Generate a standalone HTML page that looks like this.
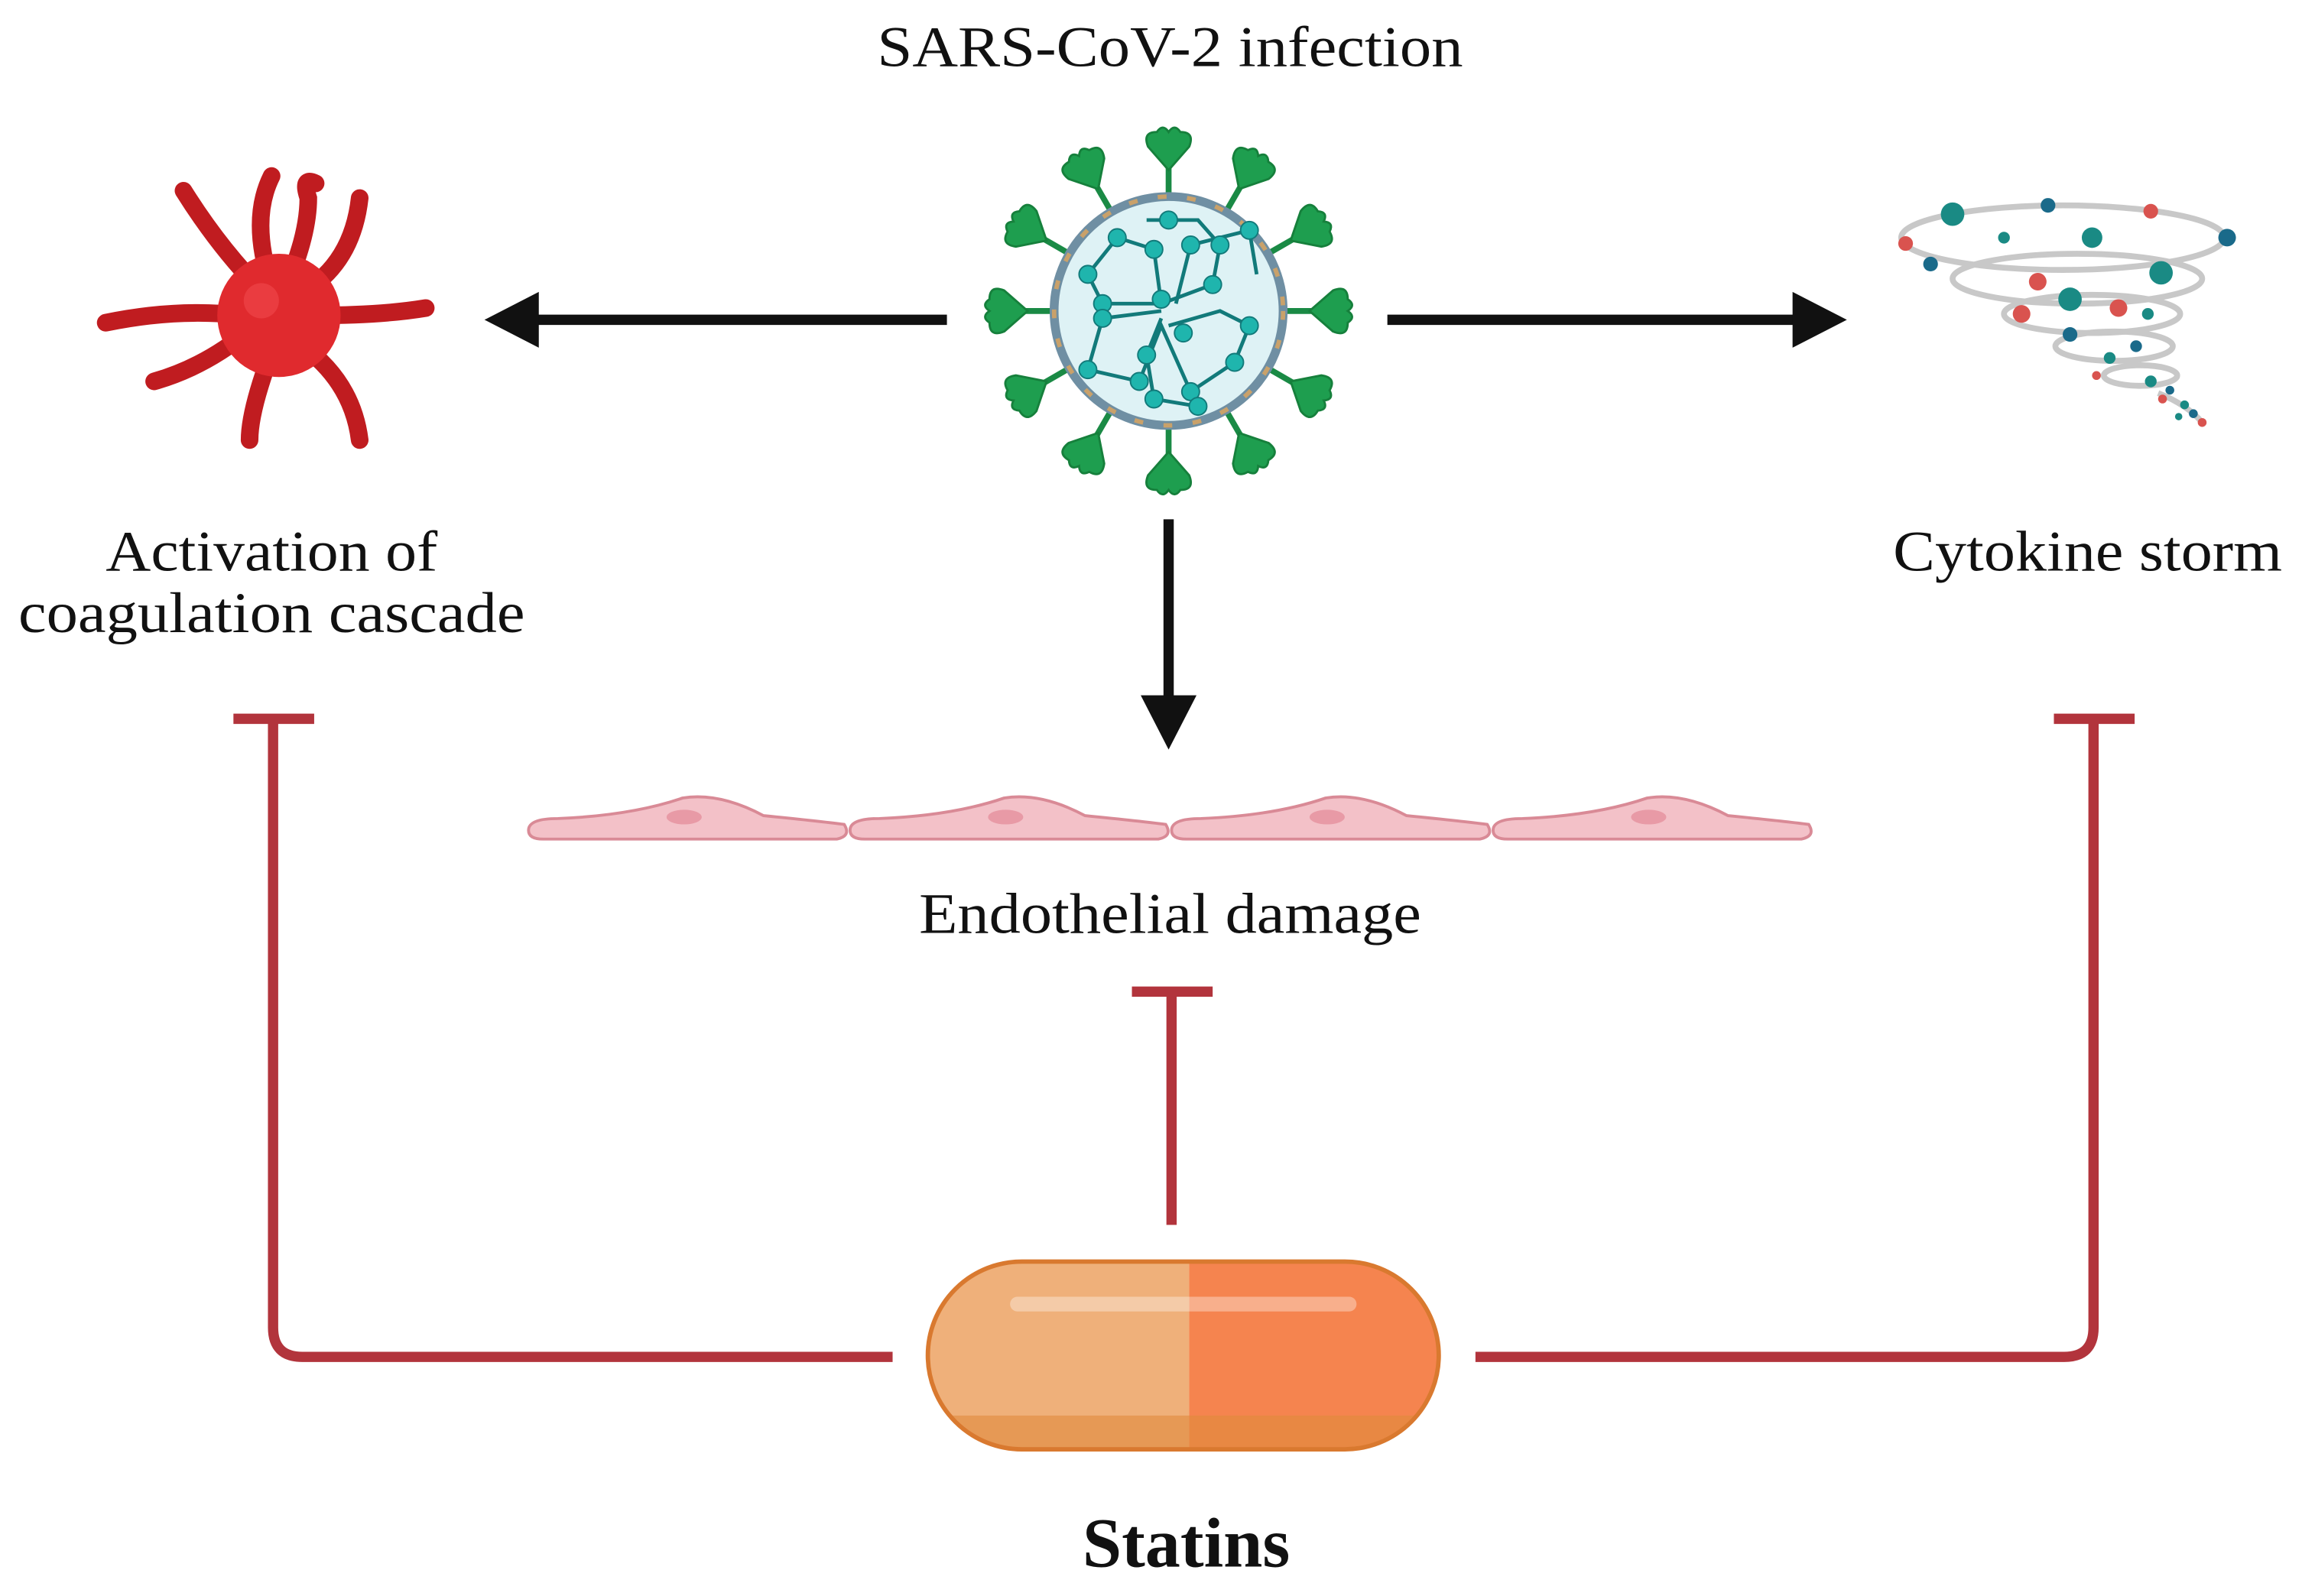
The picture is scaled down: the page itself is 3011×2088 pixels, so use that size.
<!DOCTYPE html>
<html><head><meta charset="utf-8"><style>
html,body{margin:0;padding:0;background:#fff}
svg{display:block}
</style></head><body>
<svg width="3011" height="2088" viewBox="0 0 1568 1088" preserveAspectRatio="none" xmlns="http://www.w3.org/2000/svg">
<defs>
<g id="spike">
<line x1="0" y1="-78" x2="0" y2="-100" stroke="#1a8a45" stroke-width="4"/>
<path d="M0,-96 L-14,-112 Q-18,-122 -8,-122 Q-4,-128 0,-122 Q4,-128 8,-122 Q18,-122 14,-112 Z" fill="#1e9e4f" stroke="#16803c" stroke-width="1.5"/>
</g>
</defs>
<g font-family="Liberation Serif, serif" fill="#111" text-anchor="middle">
<text x="797" y="45" font-size="39" textLength="399" lengthAdjust="spacingAndGlyphs">SARS-CoV-2 infection</text>
<text x="185" y="389" font-size="39" textLength="226" lengthAdjust="spacingAndGlyphs">Activation of</text>
<text x="185" y="431" font-size="39" textLength="345" lengthAdjust="spacingAndGlyphs">coagulation cascade</text>
<text x="1422" y="389" font-size="39" textLength="265" lengthAdjust="spacingAndGlyphs">Cytokine storm</text>
<text x="797" y="636" font-size="39" textLength="342" lengthAdjust="spacingAndGlyphs">Endothelial damage</text>
<text x="808" y="1068" font-size="48" font-weight="bold">Statins</text>
</g>
<g fill="#111" stroke="#111">
<line x1="645" y1="218" x2="360" y2="218" stroke-width="7"/>
<polygon points="330,218 367,199 367,237" stroke="none"/>
<line x1="945" y1="218" x2="1225" y2="218" stroke-width="7"/>
<polygon points="1258,218 1221,199 1221,237" stroke="none"/>
<line x1="796" y1="354" x2="796" y2="480" stroke-width="7"/>
<polygon points="796,511 777,474 815,474" stroke="none"/>
</g>
<g stroke="#b2343c" stroke-width="7" fill="none">
<path d="M186,490 L186,905 Q186,925 206,925 L608,925"/>
<line x1="159" y1="490" x2="214" y2="490"/>
<path d="M1426,490 L1426,905 Q1426,925 1406,925 L1005,925"/>
<line x1="1399" y1="490" x2="1454" y2="490"/>
<line x1="798" y1="835" x2="798" y2="676"/>
<line x1="771" y1="676" x2="826" y2="676"/>
</g>
<clipPath id="pc"><rect x="632" y="860" width="348" height="128" rx="64"/></clipPath>
<g clip-path="url(#pc)">
<rect x="632" y="860" width="178" height="130" fill="#efb07a"/>
<rect x="810" y="860" width="172" height="130" fill="#f5844f"/>
<rect x="632" y="965" width="350" height="30" fill="#e08a3c" opacity="0.6"/>
</g>
<rect x="632" y="860" width="348" height="128" rx="64" fill="none" stroke="#d9792f" stroke-width="3"/>
<rect x="688" y="884" width="236" height="10" rx="5" fill="#fff" opacity="0.35"/>
<g fill="#f3c1c8" stroke="#d98a96" stroke-width="2">
<path d="M360,566 Q360,558 380,558 Q430,556 465,544 Q490,540 520,556 Q560,560 575,562 Q580,570 570,572 L370,572 Q360,572 360,566 Z"/>
<path d="M579,566 Q579,558 599,558 Q649,556 684,544 Q709,540 739,556 Q779,560 794,562 Q799,570 789,572 L589,572 Q579,572 579,566 Z"/>
<path d="M798,566 Q798,558 818,558 Q868,556 903,544 Q928,540 958,556 Q998,560 1013,562 Q1018,570 1008,572 L808,572 Q798,572 798,566 Z"/>
<path d="M1017,566 Q1017,558 1037,558 Q1087,556 1122,544 Q1147,540 1177,556 Q1217,560 1232,562 Q1237,570 1227,572 L1027,572 Q1017,572 1017,566 Z"/>
</g>
<g fill="#e89aa6"><ellipse cx="466" cy="557" rx="12" ry="5"/><ellipse cx="685" cy="557" rx="12" ry="5"/><ellipse cx="904" cy="557" rx="12" ry="5"/><ellipse cx="1123" cy="557" rx="12" ry="5"/></g>
<g transform="translate(796,212)">
<g>
<use href="#spike" transform="rotate(0)"/><use href="#spike" transform="rotate(30)"/><use href="#spike" transform="rotate(60)"/>
<use href="#spike" transform="rotate(90)"/><use href="#spike" transform="rotate(120)"/><use href="#spike" transform="rotate(150)"/>
<use href="#spike" transform="rotate(180)"/><use href="#spike" transform="rotate(210)"/><use href="#spike" transform="rotate(240)"/>
<use href="#spike" transform="rotate(270)"/><use href="#spike" transform="rotate(300)"/><use href="#spike" transform="rotate(330)"/>
</g>
<circle r="78" fill="#def2f5" stroke="#6f8fa3" stroke-width="6"/>
<circle r="78" fill="none" stroke="#c9a16a" stroke-width="3" stroke-dasharray="6 14"/>
<g fill="none" stroke="#127a7a" stroke-width="2.5">
<path d="M-10,-5 L-45,-5 L-55,-25 L-35,-50 L-10,-42 L-5,-5 L30,-18 L35,-45 L20,-62 L-15,-62"/>
<path d="M-5,0 L-45,5 L-55,40 L-20,48 L-5,10 L15,55 L45,35 L55,10 L35,0 L0,10"/>
<path d="M5,-5 L15,-45 L55,-55 L60,-25"/>
<path d="M-5,5 L-15,30 L-10,60 L20,65"/>
</g>
<g fill="#1fb5ad" stroke="#127a7a" stroke-width="1">
<circle cx="-45" cy="-5" r="6"/><circle cx="-55" cy="-25" r="6"/><circle cx="-35" cy="-50" r="6"/><circle cx="-10" cy="-42" r="6"/><circle cx="-5" cy="-8" r="6"/>
<circle cx="30" cy="-18" r="6"/><circle cx="35" cy="-45" r="6"/><circle cx="0" cy="-62" r="6"/>
<circle cx="-45" cy="5" r="6"/><circle cx="-55" cy="40" r="6"/><circle cx="-20" cy="48" r="6"/><circle cx="15" cy="55" r="6"/>
<circle cx="45" cy="35" r="6"/><circle cx="55" cy="10" r="6"/><circle cx="15" cy="-45" r="6"/><circle cx="55" cy="-55" r="6"/>
<circle cx="-15" cy="30" r="6"/><circle cx="20" cy="65" r="6"/><circle cx="-10" cy="60" r="6"/><circle cx="10" cy="15" r="6"/>
</g>
</g>
<g fill="none" stroke="#c01c20" stroke-width="12" stroke-linecap="round">
<path d="M180,200 Q150,170 125,130"/>
<path d="M185,195 Q170,150 185,120"/>
<path d="M195,195 Q210,160 210,135 Q205,120 215,125"/>
<path d="M205,200 Q240,180 245,135"/>
<path d="M215,215 Q260,215 290,210"/>
<path d="M205,235 Q240,260 245,300"/>
<path d="M185,240 Q170,280 170,300"/>
<path d="M170,225 Q140,250 105,260"/>
<path d="M165,215 Q120,210 72,220"/>
</g>
<circle cx="190" cy="215" r="42" fill="#e02a2e"/>
<circle cx="178" cy="205" r="12" fill="#f04a4c" opacity="0.6"/>
<g fill="none" stroke="#c8c8c8" stroke-width="4">
<ellipse cx="1405" cy="162" rx="110" ry="22"/>
<ellipse cx="1415" cy="190" rx="85" ry="17"/>
<ellipse cx="1425" cy="214" rx="60" ry="13"/>
<ellipse cx="1440" cy="236" rx="40" ry="10"/>
<ellipse cx="1458" cy="256" rx="25" ry="7"/>
<path d="M1470,268 Q1490,276 1500,288"/>
</g>
<g>
<circle cx="1330" cy="146" r="8" fill="#1a8a84"/><circle cx="1395" cy="140" r="5" fill="#1a6a8a"/><circle cx="1465" cy="144" r="5" fill="#d9534f"/>
<circle cx="1517" cy="162" r="6" fill="#1a6a8a"/><circle cx="1298" cy="166" r="5" fill="#d9534f"/><circle cx="1425" cy="162" r="7" fill="#1a8a84"/>
<circle cx="1315" cy="180" r="5" fill="#1a6a8a"/><circle cx="1365" cy="162" r="4" fill="#1a8a84"/><circle cx="1472" cy="186" r="8" fill="#1a8a84"/>
<circle cx="1388" cy="192" r="6" fill="#d9534f"/><circle cx="1410" cy="204" r="8" fill="#1a8a84"/><circle cx="1443" cy="210" r="6" fill="#d9534f"/>
<circle cx="1377" cy="214" r="6" fill="#d9534f"/><circle cx="1410" cy="228" r="5" fill="#1a6a8a"/><circle cx="1463" cy="214" r="4" fill="#1a8a84"/>
<circle cx="1455" cy="236" r="4" fill="#1a6a8a"/><circle cx="1437" cy="244" r="4" fill="#1a8a84"/><circle cx="1428" cy="256" r="3" fill="#d9534f"/>
<circle cx="1465" cy="260" r="4" fill="#1a8a84"/><circle cx="1478" cy="266" r="3" fill="#1a6a8a"/><circle cx="1473" cy="272" r="3" fill="#d9534f"/>
<circle cx="1488" cy="276" r="3" fill="#1a8a84"/><circle cx="1494" cy="282" r="3" fill="#1a6a8a"/><circle cx="1500" cy="288" r="3" fill="#d9534f"/><circle cx="1484" cy="284" r="2.5" fill="#1a8a84"/>
</g>
</svg>
</body></html>
